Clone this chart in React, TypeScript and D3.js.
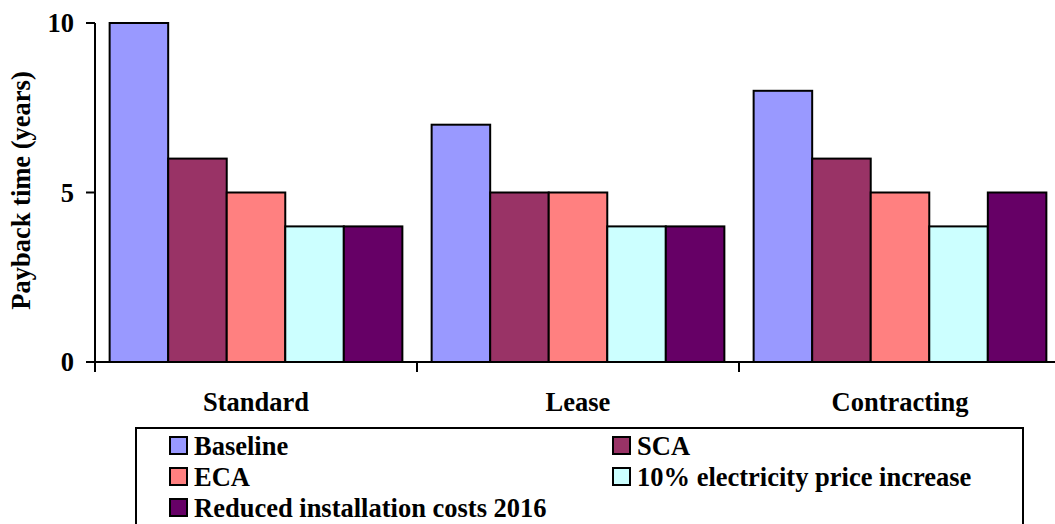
import React from "react";
import * as d3 from "d3";

const categories = ["Standard", "Lease", "Contracting"];
const seriesNames = [
  "Baseline",
  "SCA",
  "ECA",
  "10% electricity price increase",
  "Reduced installation costs 2016",
];
const seriesColors = ["#9999FF", "#993366", "#FF8080", "#CCFFFF", "#660066"];
const baseline = [10, 7, 8];
const sca = [6, 5, 6];
const eca = [5, 5, 5];
const priceIncrease = [4, 4, 4];
const reducedCosts = [4, 4, 5];
const yTicks = [0, 5, 10];

const seriesValues = [baseline, sca, eca, priceIncrease, reducedCosts];

const W = 1055;
const H = 524;
const FONT = '"Liberation Serif", "Times New Roman", Tinos, "DejaVu Serif", serif';

export default function App() {
  const x0 = d3.scaleBand<string>().domain(categories).range([95, 1061]).padding(0);
  const x1 = d3
    .scaleBand<number>()
    .domain(d3.range(seriesNames.length))
    .range([0, x0.bandwidth()])
    .paddingInner(0)
    .paddingOuter(0.25);
  const y = d3.scaleLinear().domain([0, 10]).range([362, 23]);

  const groupTicks = categories.map((c) => x0(c) as number).concat([1061]);

  // legend layout: two columns, rows filled left to right
  const legendX = [170, 613];
  const legendRowY = [437, 468, 499];

  const textStyle = { fontFamily: FONT, fontWeight: 700, fontSize: 26.5 } as const;

  return (
    <svg
      width={W}
      height={H}
      style={{ position: "absolute", left: 0, top: 0, background: "#fff" }}
    >
      {/* bars */}
      {categories.map((c, ci) => (
        <g key={c} transform={`translate(${x0(c)},0)`}>
          {seriesValues.map((vals, si) => (
            <rect
              key={si}
              x={x1(si)}
              y={y(vals[ci])}
              width={x1.bandwidth()}
              height={y(0) - y(vals[ci])}
              fill={seriesColors[si]}
              stroke="#000"
              strokeWidth={2}
            />
          ))}
        </g>
      ))}

      {/* y axis */}
      <line x1={95} x2={95} y1={y(10)} y2={y(0)} stroke="#000" strokeWidth={2} />
      {yTicks.map((t) => (
        <g key={t}>
          <line x1={86} x2={95} y1={y(t)} y2={y(t)} stroke="#000" strokeWidth={2} />
          <text x={74} y={y(t)} dy="0.35em" textAnchor="end" style={textStyle}>
            {t}
          </text>
        </g>
      ))}
      <text
        transform={`translate(30,${(y(0) + y(10)) / 2 - 2}) rotate(-90)`}
        textAnchor="middle"
        style={textStyle}
      >
        Payback time (years)
      </text>

      {/* x axis */}
      <line x1={95} x2={1061} y1={y(0)} y2={y(0)} stroke="#000" strokeWidth={2} />
      {groupTicks.map((gx, i) => (
        <line key={i} x1={gx} x2={gx} y1={y(0)} y2={y(0) + 10} stroke="#000" strokeWidth={2} />
      ))}
      {categories.map((c) => (
        <text key={c} x={(x0(c) as number) + x0.bandwidth() / 2} y={411} textAnchor="middle" style={textStyle}>
          {c}
        </text>
      ))}

      {/* legend */}
      <rect x={136} y={428} width={887} height={120} fill="#fff" stroke="#000" strokeWidth={2} />
      {seriesNames.map((name, i) => {
        const col = i % 2;
        const row = Math.floor(i / 2);
        const lx = legendX[col];
        const ly = legendRowY[row];
        return (
          <g key={name}>
            <rect x={lx} y={ly} width={17} height={17} fill={seriesColors[i]} stroke="#000" strokeWidth={2} />
            <text x={lx + 24} y={ly + 18} style={textStyle}>
              {name}
            </text>
          </g>
        );
      })}
    </svg>
  );
}
